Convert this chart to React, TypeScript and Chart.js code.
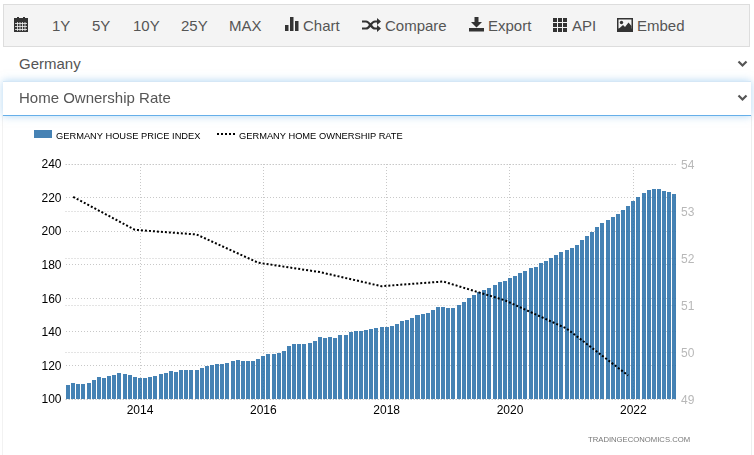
import React, { useEffect, useRef } from "react";
import { Chart, registerables } from "chart.js";

Chart.register(...registerables);

const months = [
  "2012-11", "2012-12",
  "2013-01", "2013-02", "2013-03", "2013-04", "2013-05", "2013-06", "2013-07", "2013-08", "2013-09", "2013-10", "2013-11", "2013-12",
  "2014-01", "2014-02", "2014-03", "2014-04", "2014-05", "2014-06", "2014-07", "2014-08", "2014-09", "2014-10", "2014-11", "2014-12",
  "2015-01", "2015-02", "2015-03", "2015-04", "2015-05", "2015-06", "2015-07", "2015-08", "2015-09", "2015-10", "2015-11", "2015-12",
  "2016-01", "2016-02", "2016-03", "2016-04", "2016-05", "2016-06", "2016-07", "2016-08", "2016-09", "2016-10", "2016-11", "2016-12",
  "2017-01", "2017-02", "2017-03", "2017-04", "2017-05", "2017-06", "2017-07", "2017-08", "2017-09", "2017-10", "2017-11", "2017-12",
  "2018-01", "2018-02", "2018-03", "2018-04", "2018-05", "2018-06", "2018-07", "2018-08", "2018-09", "2018-10", "2018-11", "2018-12",
  "2019-01", "2019-02", "2019-03", "2019-04", "2019-05", "2019-06", "2019-07", "2019-08", "2019-09", "2019-10", "2019-11", "2019-12",
  "2020-01", "2020-02", "2020-03", "2020-04", "2020-05", "2020-06", "2020-07", "2020-08", "2020-09", "2020-10", "2020-11", "2020-12",
  "2021-01", "2021-02", "2021-03", "2021-04", "2021-05", "2021-06", "2021-07", "2021-08", "2021-09", "2021-10", "2021-11", "2021-12",
  "2022-01", "2022-02", "2022-03", "2022-04", "2022-05", "2022-06", "2022-07", "2022-08", "2022-09",
];

const housePriceIndex = [
  108.3, 109.5,
  108.9, 108.9, 109.5, 111.3, 113.1, 112.5, 113.7, 114.3, 115.5, 114.9, 114.3, 113.1,
  112.5, 112.5, 113.1, 113.7, 114.9, 115.5, 116.7, 116.1, 117.3, 117.3, 117.3, 117.3,
  118.5, 119.7, 120.3, 120.9, 120.9, 121.5, 122.7, 123.3, 122.7, 122.7, 122.7, 123.9,
  125.6, 126.8, 126.8, 127.4, 128.6, 131.5, 132.7, 132.7, 132.7, 133.3, 134.5, 136.9,
  136.3, 136.9, 136.3, 138.1, 138.1, 139.9, 140.5, 140.5, 141.1, 141.7, 142.3, 142.9,
  142.9, 143.5, 144.6, 146.4, 147, 148.2, 150, 150.6, 151.2, 153, 154.8, 154.8,
  154.2, 154.2, 156, 157.7, 160.1, 161.9, 163.7, 164.9, 166.1, 167.9, 169.6, 170.2,
  172, 173.2, 175, 176.2, 178, 178.6, 181, 182.1, 183.9, 185.7, 187.5, 188.7,
  189.9, 191.7, 194.6, 197, 199.4, 202.4, 204.8, 206.5, 208.3, 210.1, 212.5, 214.9,
  217.9, 220.2, 222.6, 224.4, 225, 225, 223.8, 223.2, 222,
];

const ownershipMonths = ["2012-12", "2013-12", "2014-12", "2015-12", "2016-12", "2017-12", "2018-12", "2019-12", "2020-12", "2021-12"];
const ownershipRate = [53.3, 52.6, 52.5, 51.9, 51.7, 51.4, 51.5, 51.1, 50.5, 49.5];

const xTickMonths = ["2014-01", "2016-01", "2018-01", "2020-01", "2022-01"];
const rangeButtons = [["1Y", 52], ["5Y", 92], ["10Y", 133], ["25Y", 181], ["MAX", 229]] as const;

const FONT = "'Liberation Sans', Arial, sans-serif";
const ICON = "#333";
const gridStyle = { color: "#c8c8c8", lineWidth: 1, tickLength: 0, drawTicks: false };
const gridBorder = { display: false };

const label = (text: string, left: number, top: number, extra: React.CSSProperties = {}) => (
  <div key={text} style={{ position: "absolute", left, top, fontSize: 15, lineHeight: "20px", color: "#555", whiteSpace: "nowrap", ...extra }}>{text}</div>
);

const Icon = ({ left, w, h, top, children }: any) => (
  <svg style={{ position: "absolute", left, top }} width={w} height={h} viewBox={`0 0 ${w} ${h}`}>{children}</svg>
);

const Chevron = ({ top }: { top: number }) => (
  <svg style={{ position: "absolute", left: 737, top }} width={11} height={8} viewBox="0 0 11 8">
    <path d="M1.5 1.5 L5.5 5.5 L9.5 1.5" fill="none" stroke="#555" strokeWidth={2.2} />
  </svg>
);

const Toolbar = () => (
  <div style={{ position: "absolute", left: 3, top: 4, width: 745, height: 41, background: "#f4f4f4", border: "1px solid #ddd" }} />
);

// the bars sit on whole pixels, so gaps stay sharp
const snapBars = {
  id: "snapBars",
  afterDatasetsUpdate(chart: any) {
    chart.getDatasetMeta(1).data.forEach((bar: any) => {
      const left = Math.round(bar.x - bar.width / 2);
      const right = Math.round(bar.x + bar.width / 2);
      bar.x = (left + right) / 2;
      bar.width = right - left;
      bar.y = Math.round(bar.y);
      bar.base = Math.round(bar.base);
    });
  },
};

// an empty first line nudges the label down by half the line height
const nudged = (v: any) => ["", String(v)];

export default function App() {
  const canvasRef = useRef<HTMLCanvasElement | null>(null);

  useEffect(() => {
    document.body.style.margin = "0";
    if (!canvasRef.current) return;
    const chart = new Chart(canvasRef.current, {
      type: "bar",
      plugins: [snapBars],
      data: {
        labels: months,
        datasets: [
          {
            type: "line",
            label: "GERMANY HOME OWNERSHIP RATE",
            data: ownershipMonths.map((m, i) => ({ x: m, y: ownershipRate[i] })),
            yAxisID: "y1",
            borderColor: "#000",
            borderWidth: 2,
            borderDash: [2, 2],
            pointRadius: 0,
            tension: 0,
            order: 0,
          },
          {
            type: "bar",
            label: "GERMANY HOUSE PRICE INDEX",
            data: housePriceIndex,
            yAxisID: "y",
            backgroundColor: "rgba(37,108,167,0.85)",
            categoryPercentage: 1,
            barPercentage: 0.78,
            order: 1,
          },
        ],
      } as any,
      options: {
        animation: false,
        responsive: false,
        devicePixelRatio: 1,
        layout: { padding: { top: 49, left: 0, right: 0, bottom: 0 } },
        plugins: { legend: { display: false }, tooltip: { enabled: false } },
        scales: {
          x: {
            type: "category",
            afterFit: (s: any) => { s.height = 56; },
            grid: { ...gridStyle, offset: false } as any,
            border: { ...gridBorder, dash: [1, 2] },
            ticks: {
              autoSkip: false,
              maxRotation: 0,
              padding: 4,
              color: "#000",
              font: { family: FONT, size: 12 },
              callback: (_v: any, i: number) => (xTickMonths.includes(months[i]) ? months[i].slice(0, 4) : null),
            },
          },
          y: {
            position: "left",
            min: 100,
            max: 240,
            afterFit: (s: any) => { s.width = 65.5; },
            grid: gridStyle,
            border: { ...gridBorder, dash: [1, 2] },
            ticks: { stepSize: 20, padding: 4, color: "#000", font: { family: FONT, size: 12, lineHeight: "2px" }, callback: nudged },
          },
          y1: {
            position: "right",
            min: 49,
            max: 54,
            afterFit: (s: any) => { s.width = 77; },
            grid: gridStyle,
            border: { ...gridBorder, dash: [1, 2] },
            ticks: { stepSize: 1, padding: 4, color: "#b8b8b8", font: { family: FONT, size: 12, lineHeight: "3px" }, callback: nudged },
          },
        },
      } as any,
    });
    return () => chart.destroy();
  }, []);

  return (
    <div style={{ position: "relative", width: 754, height: 455, overflow: "hidden", background: "#fff", fontFamily: FONT }}>
      <div style={{ position: "absolute", left: 2, top: 115, width: 748, height: 340, borderLeft: "1px solid #f2f2f2", borderRight: "1px solid #eee" }} />
      <canvas ref={canvasRef} width={754} height={340} style={{ position: "absolute", left: 0, top: 115, width: 754, height: 340 }} />
      <Toolbar />
      <Icon left={14} top={17} w={14} h={15}>
        <rect x={0} y={1} width={14} height={14} fill={ICON} />
        <rect x={3} y={0} width={2} height={3} fill={ICON} />
        <rect x={9} y={0} width={2} height={3} fill={ICON} />
        <path d="M1 6.5H13M1 9.5H13M1 12.5H13M3.5 5V14M6 5V14M8.5 5V14M11 5V14" stroke="#f4f4f4" strokeWidth={0.8} />
      </Icon>
      {rangeButtons.map(([t, x]) => label(t, x, 16))}
      <Icon left={285} top={17} w={15} h={15}>
        <rect x={0} y={8} width={3.5} height={6} fill={ICON} />
        <rect x={5} y={0} width={3.5} height={14} fill={ICON} />
        <rect x={10} y={4} width={3.5} height={10} fill={ICON} />
      </Icon>
      {label("Chart", 303, 16)}
      <Icon left={362} top={18} w={19} h={14}>
        <path d="M0 3.5H4C8 3.5 9 10.5 13 10.5H16M0 10.5H4C8 10.5 9 3.5 13 3.5H16" fill="none" stroke={ICON} strokeWidth={2.2} />
        <path d="M15 0L19 3.5L15 7ZM15 7L19 10.5L15 14Z" fill={ICON} />
      </Icon>
      {label("Compare", 385, 16)}
      <Icon left={469} top={17} w={15} h={15}>
        <path d="M5.5 0H9.5V5H13L7.5 10.5L2 5H5.5Z" fill={ICON} />
        <rect x={0} y={11} width={15} height={3.5} fill={ICON} />
      </Icon>
      {label("Export", 488, 16)}
      <Icon left={553} top={18} w={14} h={14}>
        {[0, 5, 10].map((x) => [0, 5, 10].map((y) => <rect key={`${x}-${y}`} x={x} y={y} width={4} height={4} fill={ICON} />))}
      </Icon>
      {label("API", 572, 16)}
      <Icon left={617} top={18} w={16} h={14}>
        <rect x={0} y={0} width={16} height={14} fill={ICON} />
        <rect x={1.5} y={1.5} width={13} height={9} fill="#f4f4f4" />
        <circle cx={4.5} cy={4.5} r={1.7} fill={ICON} />
        <path d="M1.5 11L6 7L8 9L11.5 4.5L14.5 8V12H1.5Z" fill={ICON} />
      </Icon>
      {label("Embed", 637, 16)}

      {label("Germany", 19, 54)}
      <Chevron top={60} />
      <div style={{ position: "absolute", left: 3, top: 81, width: 748, height: 33, background: "#fff", borderTop: "1px solid #d5e7f6", borderBottom: "1px solid #66afe9", boxShadow: "0 0 8px rgba(102,175,233,.5)" }} />
      {label("Home Ownership Rate", 19, 88)}
      <Chevron top={94} />

      <div style={{ position: "absolute", left: 34, top: 130, width: 18, height: 8, background: "#4682b4" }} />
      <div style={{ position: "absolute", left: 56, top: 130, fontSize: 9.3, lineHeight: "12px", color: "#000", whiteSpace: "nowrap" }}>GERMANY HOUSE PRICE INDEX</div>
      <div style={{ position: "absolute", left: 217, top: 133, width: 18, height: 0, borderTop: "2px dotted #000" }} />
      <div style={{ position: "absolute", left: 239, top: 130, fontSize: 9.3, lineHeight: "12px", color: "#000", whiteSpace: "nowrap" }}>GERMANY HOME OWNERSHIP RATE</div>
      <div style={{ position: "absolute", left: 588, top: 434, fontSize: 7.7, lineHeight: "11px", color: "#777", whiteSpace: "nowrap" }}>TRADINGECONOMICS.COM</div>
    </div>
  );
}
